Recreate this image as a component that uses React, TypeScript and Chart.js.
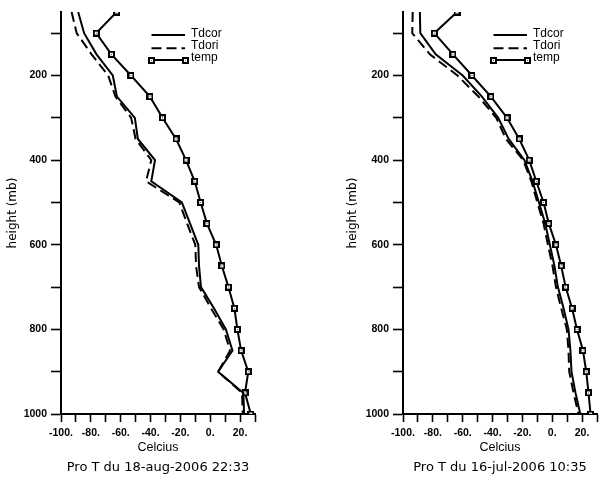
import React, { useEffect, useRef } from 'react';
import { Chart, registerables } from 'chart.js';

Chart.register(...registerables);

// ---- data ----
const pressureLevels = [50, 100, 150, 200, 250, 300, 350, 400, 450, 500, 550, 600, 650, 700, 750, 800, 850, 900, 950, 1000];
const xTickValues = [-100, -90, -80, -70, -60, -50, -40, -30, -20, -10, 0, 10, 20, 30];
const yTickValues = [100, 200, 300, 400, 500, 600, 700, 800, 900, 1000];
const legendLabels = ['Tdcor', 'Tdori', 'temp'];

const leftTitle = 'Pro T du 18-aug-2006 22:33';
const leftTemp = [-62.7, -76.4, -66.2, -53.1, -40.4, -32.0, -22.9, -16.2, -10.4, -6.4, -2.2, 4.0, 7.8, 12.2, 16.2, 18.2, 20.7, 25.5, 23.3, 27.2];
const leftTdcor = [-88.5, -84.5, -76.2, -65.3, -62.5, -50.5, -48.5, -37.0, -39.5, -19.0, -13.5, -8.0, -7.5, -6.2, 2.5, 10.5, 14.9, 5.3, 22.2, 22.7];
const leftTdori = [-92.9, -89.5, -79.5, -68.4, -63.5, -53.0, -50.0, -39.5, -43.0, -20.7, -15.5, -10.0, -9.5, -7.5, 0.5, 9.0, 13.3, 5.3, 21.3, 21.8];

const rightTitle = 'Pro T du 16-jul-2006 10:35';
const rightTemp = [-63.8, -79.0, -66.5, -53.8, -41.1, -30.3, -22.1, -15.4, -10.7, -5.8, -2.3, 2.5, 6.0, 9.0, 13.3, 16.6, 20.6, 22.8, 24.3, 25.7];
const rightTdcor = [-88.7, -88.4, -78.1, -60.0, -47.1, -36.2, -29.2, -18.6, -13.2, -8.9, -4.7, -1.6, 1.5, 3.8, 7.6, 10.9, 12.2, 12.9, 15.6, 18.8];
const rightTdori = [-93.5, -93.8, -82.0, -63.5, -49.4, -37.5, -31.0, -19.5, -14.0, -10.0, -5.8, -2.9, 0.2, 2.5, 6.0, 9.8, 10.9, 11.4, 14.3, 17.6];

const TICK_FONT = { family: '"Liberation Sans", Arial, sans-serif', size: 10.5, weight: 'bold' as const };
const LABEL_FAMILY = '"Liberation Sans", Arial, sans-serif';
const DASH = [10, 5];
const LINE_W = 2;

function makeMarker(): HTMLCanvasElement {
  const c = document.createElement('canvas');
  c.width = 7;
  c.height = 7;
  const g = c.getContext('2d')!;
  g.fillStyle = '#000';
  g.fillRect(0, 0, 7, 7);
  g.fillStyle = '#fff';
  g.fillRect(2, 2, 3, 3);
  g.fillStyle = '#555';
  g.fillRect(3, 3, 1, 1);
  return c;
}

const innerLegend = {
  id: 'innerLegend',
  afterDatasetsDraw(chart: any) {
    const { ctx, chartArea } = chart;
    const x0 = chartArea.left + 90.5;
    const x1 = chartArea.left + 124;
    const tx = chartArea.left + 130;
    const lineYs = [chartArea.top + 23, chartArea.top + 36.3, chartArea.top + 48];
    const textYs = [chartArea.top + 25.3, chartArea.top + 37, chartArea.top + 49];
    ctx.save();
    chart.data.datasets.forEach((ds: any, i: number) => {
      ctx.strokeStyle = '#000';
      ctx.lineWidth = LINE_W;
      ctx.setLineDash(ds.borderDash || []);
      ctx.beginPath();
      ctx.moveTo(x0, lineYs[i]);
      ctx.lineTo(x1, lineYs[i]);
      ctx.stroke();
      ctx.setLineDash([]);
      if (ds.pointRadius > 0 && ds.pointStyle instanceof HTMLCanvasElement) {
        const img = ds.pointStyle as HTMLCanvasElement;
        ctx.drawImage(img, Math.round(x0 - img.width / 2), Math.round(lineYs[i] - img.height / 2));
        ctx.drawImage(img, Math.round(x1 - img.width / 2), Math.round(lineYs[i] - img.height / 2));
      }
      ctx.fillStyle = '#000';
      ctx.font = `12px ${LABEL_FAMILY}`;
      ctx.textAlign = 'left';
      ctx.textBaseline = 'alphabetic';
      ctx.fillText(legendLabels[i], tx, textYs[i]);
    });
    ctx.restore();
  },
};

type PanelProps = {
  width: number;
  title: string;
  temp: number[];
  tdcor: number[];
  tdori: number[];
  padLeft: number;
  padRight: number;
  yAxisWidth: number;
};

function Panel({ width, title, temp, tdcor, tdori, padLeft, padRight, yAxisWidth }: PanelProps) {
  const ref = useRef<HTMLCanvasElement | null>(null);

  useEffect(() => {
    if (!ref.current) return;
    const marker = makeMarker();
    const toPts = (arr: number[]) => arr.map((t, i) => ({ x: t, y: pressureLevels[i] }));
    const chart = new Chart(ref.current, {
      type: 'line',
      data: {
        datasets: [
          {
            label: legendLabels[0],
            data: toPts(tdcor),
            borderColor: '#000',
            borderWidth: LINE_W,
            pointRadius: 0,
            tension: 0,
            fill: false,
          },
          {
            label: legendLabels[1],
            data: toPts(tdori),
            borderColor: '#000',
            borderWidth: LINE_W,
            borderDash: DASH,
            pointRadius: 0,
            tension: 0,
            fill: false,
          },
          {
            label: legendLabels[2],
            data: toPts(temp),
            borderColor: '#000',
            borderWidth: LINE_W,
            pointStyle: marker as any,
            pointRadius: 3.5,
            tension: 0,
            fill: false,
          },
        ],
      } as any,
      options: {
        responsive: false,
        animation: false,
        devicePixelRatio: 1,
        layout: { padding: { top: 12, right: padRight, bottom: 0, left: padLeft } },
        plugins: {
          legend: { display: false },
          tooltip: { enabled: false },
          title: {
            display: true,
            position: 'bottom',
            fullSize: false,
            text: title,
            color: '#000',
            font: { family: '"DejaVu Sans", sans-serif', size: 13, weight: 'normal', lineHeight: 1.15 },
            padding: { top: 2, bottom: 3 },
          },
        },
        scales: {
          x: {
            type: 'linear',
            position: 'bottom',
            min: -100,
            max: 30,
            afterBuildTicks: (s: any) => {
              s.ticks = xTickValues.map((v) => ({ value: v }));
            },
            afterFit: (s: any) => {
              s.height = 44;
            },
            grid: { drawOnChartArea: false, drawTicks: true, tickLength: 8, color: '#000', tickWidth: 1.6 },
            border: { display: true, color: '#000', width: 2 },
            ticks: {
              color: '#000',
              font: TICK_FONT,
              padding: 4.5,
              maxRotation: 0,
              autoSkip: false,
              callback: (v: any) => (Number(v) % 20 === 0 ? `${v}.` : ''),
            },
            title: {
              display: true,
              text: 'Celcius',
              color: '#000',
              font: { family: LABEL_FAMILY, size: 12.5, weight: 'normal' },
              padding: { top: 0, bottom: 3 },
            },
          },
          y: {
            type: 'linear',
            position: 'left',
            reverse: true,
            min: 50,
            max: 1000,
            afterBuildTicks: (s: any) => {
              s.ticks = yTickValues.map((v) => ({ value: v }));
            },
            afterFit: (s: any) => {
              s.width = yAxisWidth;
            },
            grid: { drawOnChartArea: false, drawTicks: true, tickLength: 10, color: '#000', tickWidth: 1.6 },
            border: { display: true, color: '#000', width: 2 },
            ticks: {
              color: '#000',
              font: TICK_FONT,
              padding: 4,
              autoSkip: false,
              callback: (v: any) => (Number(v) % 200 === 0 ? String(v) : ''),
            },
            title: {
              display: true,
              text: 'height (mb)',
              color: '#000',
              font: { family: '"DejaVu Sans", sans-serif', size: 12, weight: 'normal' },
              padding: { top: 6, bottom: 0 },
            },
          },
        },
      } as any,
      plugins: [innerLegend],
    });
    return () => chart.destroy();
  }, [width, title, temp, tdcor, tdori, padLeft, padRight, yAxisWidth]);

  return <canvas ref={ref} width={width} height={478} style={{ display: 'block', width, height: 478 }} />;
}

export default function App() {
  return (
    <div style={{ position: 'absolute', left: 0, top: 0, width: 603, height: 478, display: 'flex', background: '#fff' }}>
      <Panel width={301} title={leftTitle} temp={leftTemp} tdcor={leftTdcor} tdori={leftTdori} padLeft={0} padRight={46} yAxisWidth={61} />
      <Panel width={302} title={rightTitle} temp={rightTemp} tdcor={rightTdcor} tdori={rightTdori} padLeft={39} padRight={6} yAxisWidth={63} />
    </div>
  );
}
